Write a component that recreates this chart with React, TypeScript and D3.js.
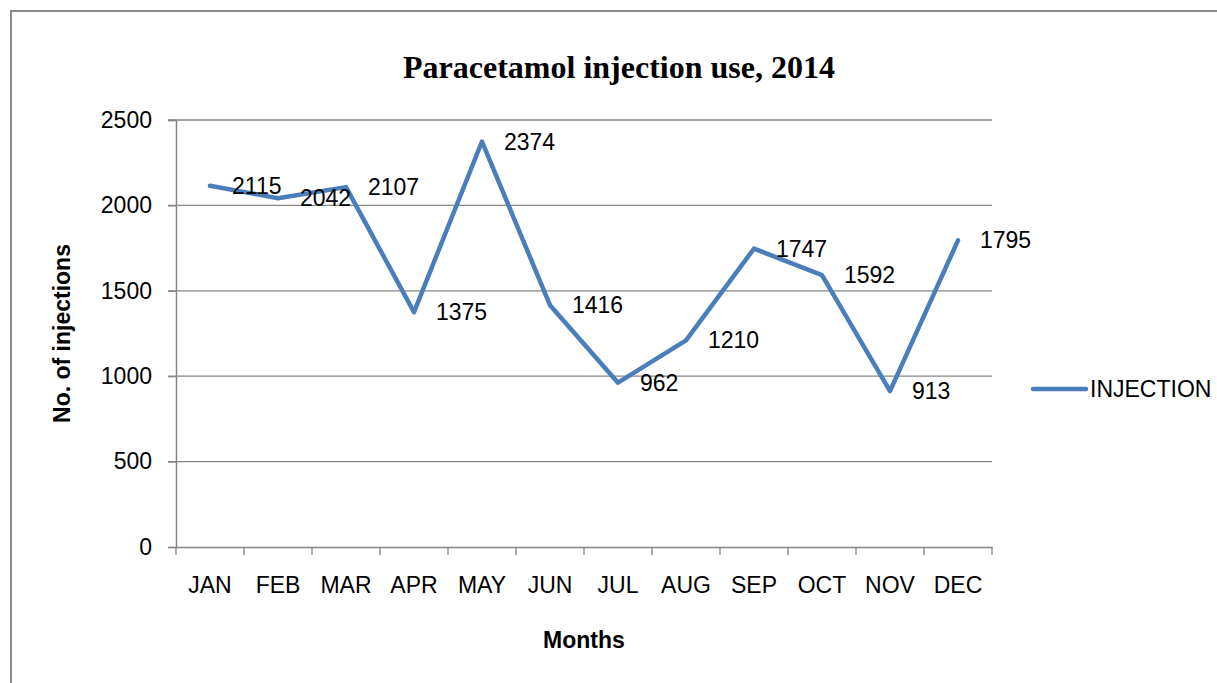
import { useEffect, useRef } from "react";
import * as d3 from "d3";

const months = ["JAN", "FEB", "MAR", "APR", "MAY", "JUN", "JUL", "AUG", "SEP", "OCT", "NOV", "DEC"];
const injections = [2115, 2042, 2107, 1375, 2374, 1416, 962, 1210, 1747, 1592, 913, 1795];
const yTicks = [0, 500, 1000, 1500, 2000, 2500];

const W = 1217;
const H = 683;
const margin = { left: 176, right: 225, top: 120, bottom: 136 };
const LINE = "#4a7ebb";
const GRID = "#868686";
const FONT = "'Liberation Sans Narrow', 'Arial Narrow', 'Liberation Sans', sans-serif";

export default function App() {
  const svgRef = useRef<SVGSVGElement>(null);

  useEffect(() => {
    const svg = d3.select(svgRef.current);
    svg.selectAll("*").remove();

    const boundsWidth = W - margin.left - margin.right;
    const boundsHeight = H - margin.top - margin.bottom;

    const data = months.map((m, i) => ({ month: m, value: injections[i] }));

    const xScale = d3.scaleBand().domain(months).range([0, boundsWidth]);
    const yScale = d3.scaleLinear().domain([0, 2500]).range([boundsHeight, 0]);
    const cx = (m: string) => (xScale(m) ?? 0) + xScale.bandwidth() / 2;

    // outer frame
    svg.append("rect")
      .attr("x", 11)
      .attr("y", 11)
      .attr("width", W + 20)
      .attr("height", H + 20)
      .attr("fill", "white")
      .attr("stroke", "#8c8c8c")
      .attr("stroke-width", 2);

    svg.append("text")
      .attr("x", 619)
      .attr("y", 78)
      .attr("text-anchor", "middle")
      .style("font-family", "'Liberation Serif', 'Times New Roman', serif")
      .style("font-weight", "bold")
      .style("font-size", "32px")
      .text("Paracetamol injection use, 2014");

    const g = svg.append("g").attr("transform", `translate(${margin.left},${margin.top})`);

    // horizontal grid
    g.append("g")
      .selectAll("line")
      .data(yTicks.filter((t) => t > 0))
      .join("line")
      .attr("x1", -8)
      .attr("x2", boundsWidth)
      .attr("y1", (d) => yScale(d))
      .attr("y2", (d) => yScale(d))
      .attr("stroke", GRID)
      .attr("stroke-width", 1.3);

    // y axis
    const yAxis = g.append("g").call(d3.axisLeft(yScale).tickValues(yTicks).tickSize(8).tickPadding(16).tickFormat(d3.format("d")));
    yAxis.select(".domain").attr("stroke", GRID).attr("stroke-width", 1.5);
    yAxis.selectAll(".tick line").attr("stroke", GRID).attr("stroke-width", 1.3);
    yAxis.selectAll("text")
      .style("font-family", FONT)
      .style("font-size", "23px")
      .attr("fill", "black");

    // x axis
    const xAxis = g.append("g")
      .attr("transform", `translate(0,${boundsHeight})`)
      .call(d3.axisBottom(xScale).tickSize(0).tickPadding(30));
    xAxis.select(".domain").attr("stroke", GRID).attr("stroke-width", 1.5);
    xAxis.selectAll("text")
      .style("font-family", FONT)
      .style("font-size", "23px")
      .attr("fill", "black");
    g.append("g")
      .selectAll("line")
      .data(d3.range(months.length + 1))
      .join("line")
      .attr("x1", (i) => i * xScale.step())
      .attr("x2", (i) => i * xScale.step())
      .attr("y1", boundsHeight)
      .attr("y2", boundsHeight + 8)
      .attr("stroke", GRID)
      .attr("stroke-width", 1.3);

    // line
    const line = d3.line<{ month: string; value: number }>()
      .x((d) => cx(d.month))
      .y((d) => yScale(d.value));
    g.append("path")
      .datum(data)
      .attr("fill", "none")
      .attr("stroke", LINE)
      .attr("stroke-width", 4.5)
      .attr("stroke-linecap", "round")
      .attr("stroke-linejoin", "round")
      .attr("d", line);

    // data labels
    g.append("g")
      .selectAll("text")
      .data(data)
      .join("text")
      .attr("x", (d) => cx(d.month) + 22)
      .attr("y", (d) => yScale(d.value))
      .attr("dy", "0.35em")
      .style("font-family", FONT)
      .style("font-size", "23px")
      .text((d) => d.value);

    // axis titles
    svg.append("text")
      .attr("transform", `translate(70,${margin.top + boundsHeight / 2}) rotate(-90)`)
      .attr("text-anchor", "middle")
      .style("font-family", FONT)
      .style("font-weight", "bold")
      .style("font-size", "23px")
      .text("No. of injections");

    svg.append("text")
      .attr("x", margin.left + boundsWidth / 2)
      .attr("y", 648)
      .attr("text-anchor", "middle")
      .style("font-family", FONT)
      .style("font-weight", "bold")
      .style("font-size", "23px")
      .text("Months");

    // legend
    svg.append("line")
      .attr("x1", 1033)
      .attr("x2", 1086)
      .attr("y1", 389)
      .attr("y2", 389)
      .attr("stroke", LINE)
      .attr("stroke-width", 4.5)
      .attr("stroke-linecap", "round");
    svg.append("text")
      .attr("x", 1090)
      .attr("y", 389)
      .attr("dy", "0.35em")
      .style("font-family", FONT)
      .style("font-size", "23px")
      .text("INJECTION");
  }, []);

  return (
    <svg ref={svgRef} width={W} height={H} style={{ position: "absolute", left: 0, top: 0 }}></svg>
  );
}
